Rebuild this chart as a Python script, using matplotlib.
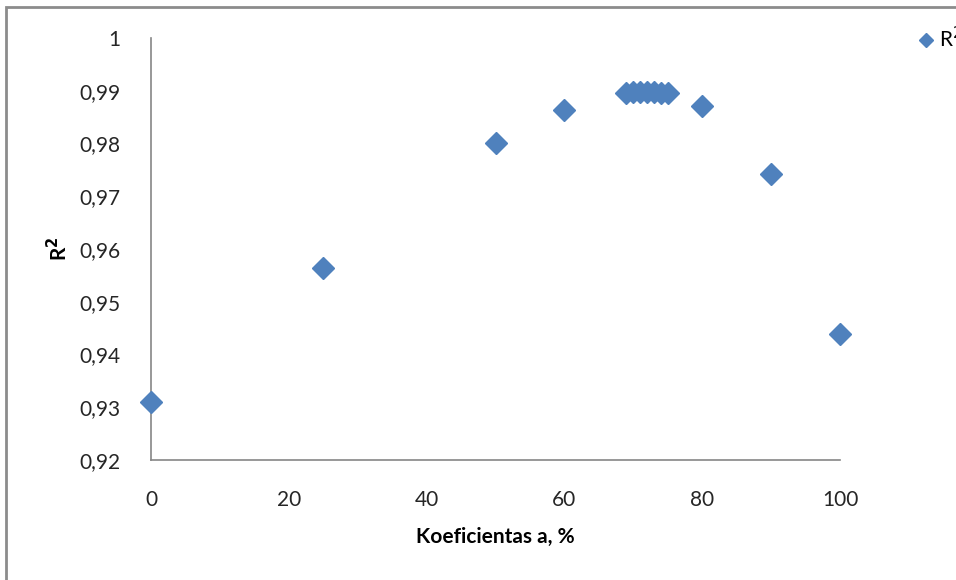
import matplotlib.pyplot as plt
from matplotlib.patches import Rectangle
from matplotlib.ticker import FuncFormatter, MultipleLocator

# koeficientas a (%) ir determinacijos koeficientas R^2
koef_a = [0, 25, 50, 60, 69, 70, 71, 72, 73, 74, 75, 80, 90, 100]
r2 = [0.931, 0.9564, 0.980, 0.9863, 0.9896, 0.9897, 0.9897, 0.9897, 0.9897, 0.9896, 0.9895,
      0.9871, 0.9742, 0.9439]

plt.rcParams['font.family'] = ['Lato', 'DejaVu Sans']

fig = plt.figure(figsize=(9.56, 5.80), dpi=100)
ax = fig.add_axes([0.158, 0.207, 0.7207, 0.7276])

pts, = ax.plot(koef_a, r2, linestyle='none', marker='D', markersize=11.5,
               color='#4F81BD', clip_on=False, zorder=3)

ax.set_xlim(0, 100)
ax.set_ylim(0.92, 1.0)
ax.xaxis.set_major_locator(MultipleLocator(20))
ax.yaxis.set_major_locator(MultipleLocator(0.01))

def comma_fmt(v, pos):
    s = f"{v:.2f}".rstrip('0').rstrip('.')
    return s.replace('.', ',')

ax.yaxis.set_major_formatter(FuncFormatter(comma_fmt))
ax.xaxis.set_major_formatter(FuncFormatter(lambda v, p: f"{v:.0f}"))

for side in ['top', 'right']:
    ax.spines[side].set_visible(False)
for side in ['left', 'bottom']:
    ax.spines[side].set_color('#868686')
    ax.spines[side].set_linewidth(1.2)

ax.tick_params(axis='both', length=0, labelsize=15, colors='#262626')
ax.tick_params(axis='y', pad=22)
ax.tick_params(axis='x', pad=22)

ax.set_xlabel('Koeficientas a, %', fontsize=15, fontweight='bold', labelpad=12)
ax.set_ylabel('R$^\\mathbf{2}$', fontsize=15, fontweight='bold', labelpad=6)

# legenda, nukirsta prie desiniojo krasto
fig.legend([pts], ['R$^2$'], loc='upper left', bbox_to_anchor=(0.963, 0.955),
           frameon=False, fontsize=15, markerscale=0.6, handlelength=0.5,
           handletextpad=0.4, borderaxespad=0, borderpad=0)

# diagramos rėmelis
fig.patches.append(Rectangle((0.006, -0.1), 1.2, 1.088, transform=fig.transFigure,
                             fill=False, edgecolor='#8c8c8c', linewidth=2))

fig.savefig('out.png', dpi=100)
